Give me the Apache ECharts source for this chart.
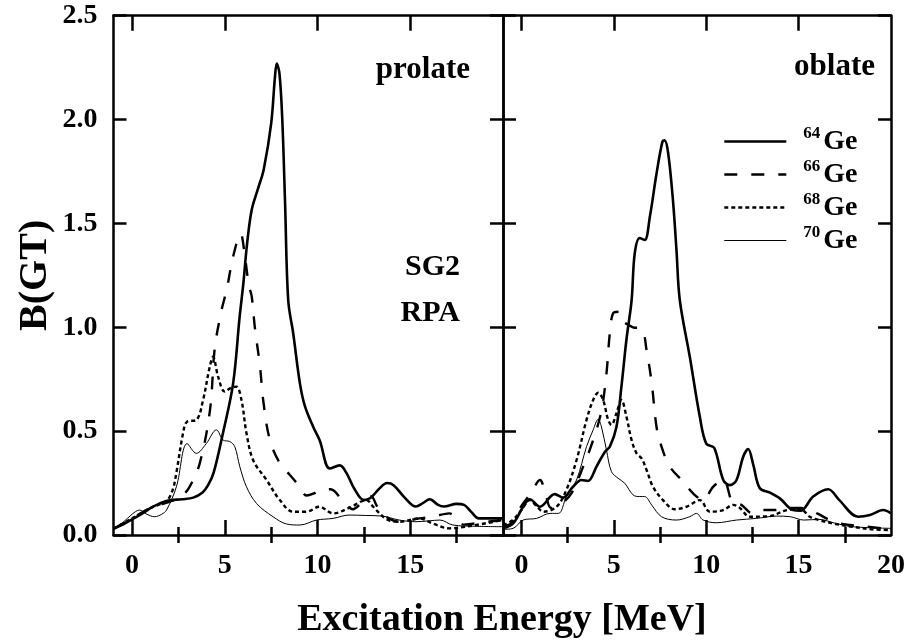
<!DOCTYPE html>
<html>
<head>
<meta charset="utf-8">
<script src="https://cdn.jsdelivr.net/npm/echarts@6/dist/echarts.min.js"></script>
<style>html,body{margin:0;padding:0;background:#fff}#c{width:909px;height:642px}</style>
</head>
<body>
<div id="c"></div>
<script>
// ---- data: [Excitation energy (MeV), B(GT)] ----
const prolate64 = [[-1,0.03],[-0.5,0.05],[0,0.075],[0.5,0.1],[1.1,0.135],[1.9,0.165],[2.7,0.172],[3.3,0.18],[3.8,0.205],[4.1,0.24],[4.4,0.3],[4.9,0.49],[5.45,0.73],[5.8,1.05],[6.0,1.21],[6.2,1.4],[6.45,1.565],[6.8,1.67],[7.1,1.76],[7.5,1.98],[7.7,2.2],[7.8,2.27],[7.95,2.22],[8.1,2.0],[8.25,1.6],[8.42,1.13],[8.69,0.97],[9.05,0.73],[9.32,0.62],[9.77,0.52],[10.12,0.455],[10.66,0.32],[11.2,0.335],[11.55,0.3],[12.0,0.22],[12.5,0.168],[12.85,0.178],[13.3,0.22],[13.75,0.25],[14.1,0.24],[14.7,0.18],[15.3,0.137],[15.7,0.155],[16.05,0.172],[16.5,0.145],[16.8,0.137],[17.5,0.15],[17.9,0.145],[18.3,0.11],[18.7,0.08],[20,0.08]];
const prolate66 = [[-1,0.03],[0,0.08],[1,0.13],[2,0.16],[2.6,0.18],[3.1,0.232],[3.65,0.345],[4.2,0.6],[4.46,0.9],[4.82,1.08],[5.1,1.18],[5.45,1.34],[5.85,1.45],[6.1,1.33],[6.3,1.2],[6.45,1.15],[6.62,1.0],[6.9,0.81],[7.07,0.65],[7.43,0.457],[7.97,0.345],[8.5,0.29],[9.05,0.232],[9.4,0.19],[9.8,0.2],[10.2,0.22],[10.7,0.22],[11.4,0.16],[11.9,0.124],[12.45,0.16],[12.9,0.185],[13.2,0.14],[13.7,0.088],[14.4,0.064],[15.5,0.08],[16.3,0.09],[17.1,0.104],[17.9,0.05],[18.8,0.06],[20,0.072]];
const prolate68 = [[-1,0.03],[0,0.08],[1,0.13],[1.86,0.165],[2.2,0.22],[2.39,0.3],[2.75,0.49],[2.97,0.546],[3.47,0.554],[3.83,0.65],[4.19,0.81],[4.37,0.858],[4.64,0.762],[5.0,0.69],[5.36,0.71],[5.63,0.714],[5.9,0.65],[6.17,0.49],[6.53,0.36],[7.25,0.265],[7.97,0.168],[8.68,0.112],[9.4,0.112],[10.1,0.136],[10.84,0.104],[11.7,0.13],[12.64,0.168],[13.0,0.136],[13.72,0.076],[14.4,0.064],[15.5,0.08],[16.2,0.056],[17.1,0.032],[18,0.04],[20,0.072]];
const prolate70 = [[-1,0.032],[-0.5,0.06],[0,0.1],[0.41,0.12],[0.8,0.1],[1.22,0.088],[1.6,0.1],[1.86,0.12],[2.39,0.232],[2.97,0.44],[3.47,0.393],[4.0,0.44],[4.55,0.506],[4.91,0.457],[5.27,0.45],[5.54,0.425],[5.81,0.329],[6.17,0.232],[6.71,0.152],[7.6,0.088],[8.33,0.053],[9.05,0.048],[9.95,0.072],[10.84,0.08],[11.7,0.096],[12.6,0.094],[13.5,0.091],[14.4,0.072],[15.3,0.064],[16.0,0.068],[16.6,0.072],[17.3,0.048],[18.5,0.042],[20,0.04]];

const oblate64 = [[-1,0.032],[-0.45,0.056],[0.09,0.136],[0.45,0.172],[1.0,0.136],[1.8,0.197],[2.25,0.18],[2.79,0.232],[3.25,0.265],[3.6,0.26],[4.06,0.329],[4.51,0.40],[4.78,0.425],[5.14,0.52],[5.41,0.714],[5.68,0.94],[5.96,1.13],[6.13,1.356],[6.4,1.43],[6.67,1.42],[6.95,1.533],[7.31,1.74],[7.63,1.894],[7.75,1.9],[7.94,1.838],[8.2,1.61],[8.39,1.37],[8.57,1.13],[9.11,0.858],[9.65,0.57],[10.0,0.44],[10.43,0.42],[10.92,0.265],[11.28,0.24],[11.64,0.265],[12.0,0.377],[12.27,0.414],[12.54,0.34],[12.9,0.225],[13.45,0.204],[14.0,0.175],[14.7,0.12],[15.1,0.117],[15.79,0.185],[16.6,0.22],[17.2,0.168],[18.22,0.088],[18.86,0.096],[19.58,0.12],[20,0.104]];
const oblate66 = [[-1,0.04],[-0.5,0.06],[0,0.14],[0.5,0.2],[1.0,0.265],[1.3,0.2],[1.6,0.13],[2.15,0.15],[2.7,0.2],[3.34,0.329],[3.88,0.457],[4.33,0.6],[4.6,0.778],[4.78,0.97],[4.96,1.067],[5.28,1.075],[5.5,1.03],[6.04,1.0],[6.5,0.995],[6.77,0.89],[7.05,0.73],[7.31,0.52],[7.58,0.425],[8.03,0.329],[8.75,0.257],[9.29,0.2],[9.83,0.168],[10.37,0.232],[10.92,0.265],[11.46,0.152],[11.9,0.145],[12.5,0.104],[13.0,0.12],[13.7,0.12],[14.4,0.13],[15.1,0.13],[15.6,0.12],[16.0,0.104],[16.9,0.064],[17.8,0.048],[18.7,0.04],[20,0.027]];
const oblate68 = [[-1,0.048],[-0.5,0.07],[0,0.12],[0.45,0.168],[0.8,0.14],[1.2,0.112],[1.9,0.136],[2.43,0.217],[2.98,0.36],[3.52,0.554],[3.88,0.65],[4.15,0.685],[4.42,0.65],[4.69,0.554],[4.87,0.53],[5.14,0.586],[5.41,0.65],[5.68,0.57],[5.96,0.457],[6.23,0.393],[6.5,0.369],[6.77,0.313],[7.12,0.232],[7.66,0.168],[8.3,0.124],[8.93,0.136],[9.65,0.168],[10.2,0.112],[10.92,0.12],[11.46,0.145],[11.82,0.13],[12.36,0.088],[13.45,0.091],[14.36,0.12],[15.1,0.124],[15.6,0.088],[16.1,0.072],[17,0.053],[17.9,0.04],[19,0.027],[20,0.024]];
const oblate70 = [[-1,0.027],[-0.45,0.032],[0.09,0.072],[0.82,0.08],[1.55,0.104],[2.0,0.104],[2.43,0.184],[2.98,0.265],[3.52,0.425],[3.88,0.506],[4.15,0.557],[4.33,0.52],[4.6,0.409],[4.87,0.305],[5.23,0.273],[5.59,0.249],[6.04,0.193],[6.4,0.185],[6.67,0.185],[7.05,0.144],[7.58,0.088],[8.39,0.072],[9.1,0.088],[9.47,0.104],[9.83,0.072],[10.55,0.059],[11.64,0.072],[12.72,0.08],[13.8,0.091],[14.55,0.088],[15.27,0.072],[16.1,0.075],[17,0.056],[17.9,0.04],[20,0.032]];

const seriesNames = ['64Ge','66Ge','68Ge','70Ge'];
const majorTicks = [0,5,10,15];
const minorTicks = [2.5,7.5,12.5,17.5];
const leftLabels = [0,5,10,15];
const rightLabels = [0,5,10,15,20];
const xMin = -1, xMax = 20, yMin = 0, yMax = 2.5, yStep = 0.5;

// ---- chart ----
const FF = '"Liberation Serif", "Times New Roman", serif';
const BLACK = '#000';
const chart = echarts.init(document.getElementById('c'), null, {renderer:'canvas'});

const grids = [
  {left:113.5, top:15.7, width:389.5, height:519.3, outerBoundsMode:'none'},
  {left:503, top:15.7, width:388, height:519.3, outerBoundsMode:'none'}
];

function xAxesFor(g, labels){
  const base = {gridIndex:g, type:'value', min:xMin, max:xMax, splitLine:{show:false}};
  const lineOn = {show:true, onZero:false, lineStyle:{color:BLACK, width:2.5}};
  const tickStyle = {color:BLACK, width:2.5};
  return [
    Object.assign({}, base, {position:'bottom', axisLine:lineOn,
      axisTick:{show:true, inside:true, length:15, customValues:majorTicks, lineStyle:tickStyle},
      axisLabel:{show:true, customValues:labels, margin:17, color:BLACK, fontSize:28, fontWeight:'bold', fontFamily:FF}}),
    Object.assign({}, base, {position:'bottom', axisLine:{show:false},
      axisTick:{show:true, inside:true, length:8, customValues:minorTicks, lineStyle:tickStyle}, axisLabel:{show:false}}),
    Object.assign({}, base, {position:'top', axisLine:lineOn,
      axisTick:{show:true, inside:true, length:15, customValues:majorTicks, lineStyle:tickStyle}, axisLabel:{show:false}}),
    Object.assign({}, base, {position:'top', axisLine:{show:false},
      axisTick:{show:true, inside:true, length:8, customValues:minorTicks, lineStyle:tickStyle}, axisLabel:{show:false}})
  ];
}
function yAxesFor(g){
  const base = {gridIndex:g, type:'value', min:yMin, max:yMax, interval:yStep, splitLine:{show:false},
    axisLine:{show:true, onZero:false, lineStyle:{color:BLACK, width:2.5}},
    axisTick:{show:true, inside:true, length:13, lineStyle:{color:BLACK, width:2.5}}};
  const left = Object.assign({}, base, {position:'left',
    axisLabel: g===0 ? {show:true, formatter:v=>v.toFixed(1), margin:16, color:BLACK, fontSize:28, fontWeight:'bold', fontFamily:FF} : {show:false}});
  if (g===0){
    left.name = 'B(GT)'; left.nameLocation = 'middle'; left.nameRotate = 90; left.nameGap = 58;
    left.nameTextStyle = {color:BLACK, fontSize:40, fontWeight:'bold', fontFamily:FF};
  }
  const right = Object.assign({}, base, {position:'right', axisLabel:{show:false}});
  return [left, right];
}

const styles = [
  {width:2.6, type:'solid'},
  {width:2.4, type:[13,14]},
  {width:2.4, type:[4,3]},
  {width:1, type:'solid'}
];
function mk(name, data, g, i){
  return {name, type:'line', data, xAxisIndex:4*g, yAxisIndex:2*g, symbol:'none', smooth:0.35,
    lineStyle:Object.assign({color:BLACK}, styles[i]), itemStyle:{color:BLACK}, z:10-i, silent:true, animation:false};
}
const prolate = [prolate64, prolate66, prolate68, prolate70];
const oblate = [oblate64, oblate66, oblate68, oblate70];
const series = [];
prolate.forEach((d,i)=>series.push(mk(seriesNames[i], d, 0, i)));
oblate.forEach((d,i)=>series.push(mk(seriesNames[i], d, 1, i)));

const txt = (text, x, y, size, align) => ({type:'text', x, y, silent:true,
  style:{text, fill:BLACK, font:'bold '+size+'px '+FF, textAlign:align, textVerticalAlign:'middle'}});

chart.setOption({
  animation:false,
  backgroundColor:'#fff',
  grid:grids,
  xAxis:[...xAxesFor(0, leftLabels), ...xAxesFor(1, rightLabels)],
  yAxis:[...yAxesFor(0), ...yAxesFor(1)],
  legend:{
    orient:'vertical', left:723, top:125, padding:0, itemWidth:62, itemHeight:14, itemGap:2.5,
    data:seriesNames.map((n,i)=>({name:n, lineStyle:{width:styles[i].width, type:styles[i].type, color:BLACK}})),
    selectedMode:false,
    itemStyle:{opacity:0},
    formatter: n => '{s|' + n.slice(0,2) + '}{g|' + n.slice(2) + '}',
    textStyle:{color:BLACK, rich:{
      s:{fontSize:17, fontWeight:'bold', fontFamily:FF, color:BLACK, verticalAlign:'top', lineHeight:33, padding:[0,3,0,12]},
      g:{fontSize:28, fontWeight:'bold', fontFamily:FF, color:BLACK, lineHeight:33}
    }}
  },
  graphic:[
    txt('prolate', 470, 70, 31, 'right'),
    txt('oblate', 875, 67, 31, 'right'),
    txt('SG2', 460, 267, 30, 'right'),
    txt('RPA', 460, 313, 30, 'right'),
    txt('Excitation Energy [MeV]', 502, 620, 38, 'center')
  ],
  series
});
</script>
</body>
</html>
